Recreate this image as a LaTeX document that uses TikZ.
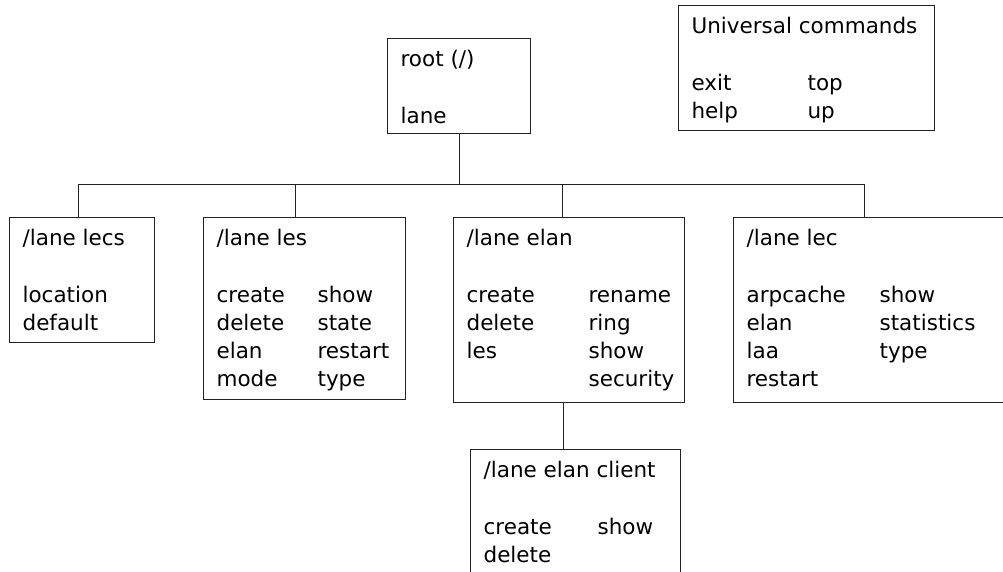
\documentclass[tikz,border=0pt]{standalone}
\usepackage{fontspec}
\setmainfont{DejaVu Sans}
\usepackage{tikz}
\definecolor{boxline}{HTML}{222222}
\tikzset{
  cmdbox/.style={draw=boxline, line width=1.2pt, anchor=north west,
                 inner xsep=13pt, inner ysep=0pt, font=\fontsize{21.5}{28}\selectfont},
  link/.style={draw=boxline, line width=1pt}
}
\newcommand{\cmdcol}[3]{\makebox[#1][l]{#2}#3}
\newcommand{\cmdpane}[4]{\parbox[b][#1][t]{#2}{\rule{0pt}{28pt}\mbox{#3}\\[29pt]#4}}

\begin{document}
\begin{tikzpicture}[x=1pt, y=-1pt]
    \useasboundingbox (0,0) rectangle (1003,571);
    \node[cmdbox] (root) at (387,38) {\cmdpane{95pt}{117pt}{root (/)}{lane}};
    \node[cmdbox] (univ) at (678,5) {\cmdpane{125pt}{230pt}{Universal commands}{%
      \cmdcol{116pt}{exit}{top}\\
      \cmdcol{116pt}{help}{up}}};
    \node[cmdbox] (lecs) at (9,217) {\cmdpane{125pt}{119pt}{/lane lecs}{%
      location\\
      default}};
    \node[cmdbox] (les) at (203,217) {\cmdpane{182pt}{176pt}{/lane les}{%
      \cmdcol{101pt}{create}{show}\\
      \cmdcol{101pt}{delete}{state}\\
      \cmdcol{101pt}{elan}{restart}\\
      \cmdcol{101pt}{mode}{type}}};
    \node[cmdbox] (elan) at (453,217) {\cmdpane{185pt}{205pt}{/lane elan}{%
      \cmdcol{122pt}{create}{rename}\\
      \cmdcol{122pt}{delete}{ring}\\
      \cmdcol{122pt}{les}{show}\\
      \cmdcol{122pt}{}{security}}};
    \node[cmdbox] (lec) at (733,217) {\cmdpane{185pt}{251pt}{/lane lec}{%
      \cmdcol{133pt}{arpcache}{show}\\
      \cmdcol{133pt}{elan}{statistics}\\
      \cmdcol{133pt}{laa}{type}\\
      restart}};
    \node[cmdbox] (client) at (470,449) {\cmdpane{140pt}{184pt}{/lane elan client}{%
      \cmdcol{114pt}{create}{show}\\
      delete}};

    \draw[link] (root.south) -- ++(0,51);
    \draw[link] ([xshift=-3.5pt]lecs.north) -- ++(0,-33) -| ([xshift=-8pt]lec.north);
    \draw[link] ([xshift=-9pt]les.north) -- ++(0,-33);
    \draw[link] ([xshift=-6.5pt]elan.north) -- ++(0,-33);
    \draw[link] ([xshift=-5.5pt]elan.south) -- ([xshift=-5.5pt]elan.south |- client.north);
\end{tikzpicture}
\end{document}
